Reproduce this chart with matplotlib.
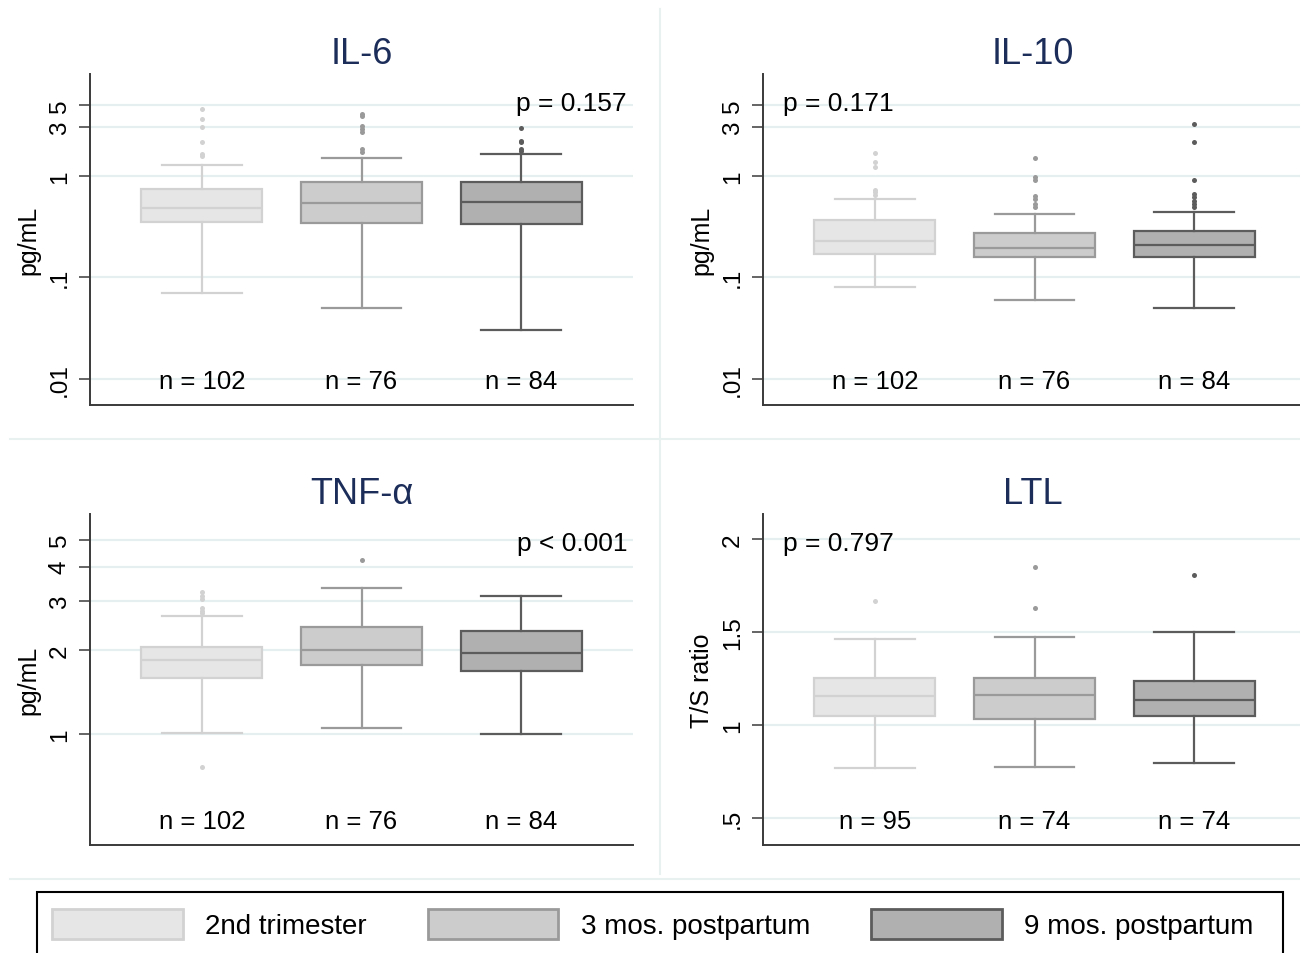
import matplotlib.pyplot as plt
from matplotlib.patches import Patch, Rectangle
from matplotlib.lines import Line2D
from matplotlib.ticker import NullLocator

plt.rcParams['font.family'] = ['Liberation Sans', 'DejaVu Sans']

# group labels
groups = ["2nd trimester", "3 mos. postpartum", "9 mos. postpartum"]

# IL-6 (pg/mL) box statistics
il6_q1 = [0.347, 0.344, 0.334]
il6_med = [0.48, 0.542, 0.554]
il6_q3 = [0.744, 0.867, 0.867]
il6_lo = [0.070, 0.0497, 0.030]
il6_hi = [1.28, 1.50, 1.66]
il6_out = [[4.57, 3.65, 3.02, 2.15, 1.65, 1.56],
           [4.08, 3.87, 3.13, 2.90, 2.70, 1.85, 1.71],
           [2.95, 2.23, 2.15, 1.85, 1.77]]
il6_n = [102, 76, 84]

# IL-10 (pg/mL)
il10_q1 = [0.169, 0.158, 0.158]
il10_med = [0.229, 0.195, 0.21]
il10_q3 = [0.363, 0.272, 0.289]
il10_lo = [0.0794, 0.060, 0.0497]
il10_hi = [0.593, 0.419, 0.442]
il10_out = [[1.69, 1.36, 1.22, 0.728, 0.690, 0.650],
            [1.51, 0.985, 0.90, 0.63, 0.593, 0.53, 0.492],
            [3.23, 2.15, 0.914, 0.665, 0.617, 0.571, 0.53, 0.492]]
il10_n = [102, 76, 84]

# TNF-alpha (pg/mL)
tnf_q1 = [1.59, 1.77, 1.68]
tnf_med = [1.85, 2.01, 1.96]
tnf_q3 = [2.05, 2.42, 2.34]
tnf_lo = [1.01, 1.05, 1.0]
tnf_hi = [2.66, 3.35, 3.14]
tnf_out = [[3.24, 3.13, 3.06, 2.84, 2.78, 2.73, 0.761],
           [4.23],
           []]
tnf_n = [102, 76, 84]

# LTL (T/S ratio)
ltl_q1 = [1.048, 1.034, 1.05]
ltl_med = [1.158, 1.16, 1.135]
ltl_q3 = [1.253, 1.253, 1.24]
ltl_lo = [0.772, 0.774, 0.797]
ltl_hi = [1.465, 1.474, 1.50]
ltl_out = [[1.671], [1.849, 1.63], [1.81]]
ltl_n = [95, 74, 74]

fills = ["#e6e6e6", "#cccccc", "#b0b0b0"]
edges = ["#d2d2d2", "#9a9a9a", "#5c5c5c"]
title_color = "#1c2d5a"
grid_color = "#e6eff0"

W, H = 1300, 954
fig = plt.figure(figsize=(W / 100, H / 100), dpi=100)


def px_axes(x0, y0, x1, y1):
    return fig.add_axes([x0 / W, 1 - y1 / H, (x1 - x0) / W, (y1 - y0) / H])


def panel(ax, title, q1, med, q3, lo, hi, out, n, ticks, ticklabels,
          ylim, log, ylabel, ptext, pleft):
    if log:
        ax.set_yscale('log')
    for i in range(3):
        stats = [dict(q1=q1[i], med=med[i], q3=q3[i], whislo=lo[i],
                      whishi=hi[i], fliers=out[i])]
        ax.bxp(stats, positions=[i + 1], widths=0.756, capwidths=0.5,
               patch_artist=True, showfliers=True,
               boxprops=dict(facecolor=fills[i], edgecolor=edges[i], linewidth=1.6),
               medianprops=dict(color=edges[i], linewidth=1.6),
               whiskerprops=dict(color=edges[i], linewidth=1.6),
               capprops=dict(color=edges[i], linewidth=1.6),
               flierprops=dict(marker='o', markersize=3.6, markerfacecolor=edges[i],
                               markeredgecolor='none'),
               zorder=3)
    ax.set_xlim(0.3, 3.7)
    ax.set_ylim(*ylim)
    ax.yaxis.set_minor_locator(NullLocator())
    ax.set_yticks(ticks)
    ax.set_yticklabels(ticklabels, rotation=90, va='center', ha='right')
    ax.set_xticks([])
    for t in ticks:
        ax.axhline(t, color=grid_color, linewidth=1.6, zorder=1)
    for s in ['top', 'right']:
        ax.spines[s].set_visible(False)
    for s in ['left', 'bottom']:
        ax.spines[s].set_color('#3a3a3a')
        ax.spines[s].set_linewidth(1.4)
    ax.tick_params(axis='y', length=7.7, width=1.1, color='#3a3a3a',
                   labelsize=17.5, pad=6)
    ax.set_ylabel(ylabel, fontsize=18, labelpad=6)
    ax.set_title(title, fontsize=26, color=title_color, pad=8)
    for i in range(3):
        ax.text(i + 1, 0.0725, f"n = {n[i]}", transform=ax.get_xaxis_transform(),
                ha='center', va='center', fontsize=18.5)
    if pleft:
        ax.text(0.037, 0.912, ptext, transform=ax.transAxes, ha='left',
                va='center', fontsize=19)
    else:
        ax.text(0.989, 0.912, ptext, transform=ax.transAxes, ha='right',
                va='center', fontsize=19)


ax1 = px_axes(90, 75, 633, 406)
panel(ax1, "IL-6", il6_q1, il6_med, il6_q3, il6_lo, il6_hi, il6_out, il6_n,
      [0.01, 0.1, 1, 3, 5], [".01", ".1", "1", "3", "5"], (0.0055, 10.1), True,
      "pg/mL", "p = 0.157", False)

ax2 = px_axes(763, 75, 1306, 406)
panel(ax2, "IL-10", il10_q1, il10_med, il10_q3, il10_lo, il10_hi, il10_out, il10_n,
      [0.01, 0.1, 1, 3, 5], [".01", ".1", "1", "3", "5"], (0.0055, 10.1), True,
      "pg/mL", "p = 0.171", True)
ax2.title.set_position((0.5 * 540 / 543, 1))

ax3 = px_axes(90, 515, 633, 846)
panel(ax3, "TNF-\u03b1", tnf_q1, tnf_med, tnf_q3, tnf_lo, tnf_hi, tnf_out, tnf_n,
      [1, 2, 3, 4, 5], ["1", "2", "3", "4", "5"], (0.40, 6.18), True,
      "pg/mL", "p < 0.001", False)

ax4 = px_axes(763, 515, 1306, 846)
panel(ax4, "LTL", ltl_q1, ltl_med, ltl_q3, ltl_lo, ltl_hi, ltl_out, ltl_n,
      [0.5, 1, 1.5, 2], [".5", "1", "1.5", "2"], (0.355, 2.137), False,
      "T/S ratio", "p = 0.797", True)
ax4.title.set_position((0.5 * 540 / 543, 1))

# faint panel separators
sep = "#e8f0f0"
fig.add_artist(Line2D([660 / W, 660 / W], [1 - 10 / H, 1 - 875 / H], color=sep, lw=1.5,
                      transform=fig.transFigure))
fig.add_artist(Line2D([10 / W, 1.0], [1 - 440 / H, 1 - 440 / H], color=sep, lw=1.5,
                      transform=fig.transFigure))
fig.add_artist(Line2D([10 / W, 1.0], [1 - 880 / H, 1 - 880 / H], color=sep, lw=1.5,
                      transform=fig.transFigure))

# legend frame, then the legend itself without its own frame
fig.add_artist(Rectangle((37 / W, -0.01), 1246 / W, 1 - 893 / H + 0.01,
                         transform=fig.transFigure, facecolor='white',
                         edgecolor='black', linewidth=1.5))
handles = [Patch(facecolor=fills[i], edgecolor=edges[i], linewidth=2, label=groups[i])
           for i in range(3)]
leg = fig.legend(handles=handles, loc='center left', ncol=3,
                 bbox_to_anchor=(44 / W, 1 - 925 / H), frameon=False,
                 fontsize=20, borderaxespad=0, borderpad=0.3,
                 handlelength=4.7, handleheight=1.3, handletextpad=0.8,
                 columnspacing=2.2)

plt.savefig("out.png", dpi=100)
